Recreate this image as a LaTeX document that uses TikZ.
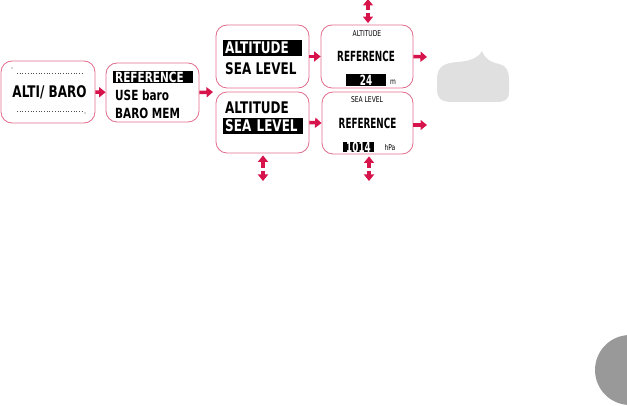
\documentclass[tikz,border=0pt]{standalone}
\usepackage{fontspec}
\usepackage{xcolor}
\usetikzlibrary{arrows.meta}
\newfontfamily\lcdfont[FakeStretch=0.75]{DejaVu Sans}
\newfontfamily\lcdnarrow[FakeStretch=0.63]{DejaVu Sans}
\definecolor{baroRed}{HTML}{D6134A}
\definecolor{frameRed}{HTML}{E06B8C}
\definecolor{bubbleGray}{HTML}{E0E0E0}
\definecolor{tabGray}{HTML}{999999}

\begin{document}
\begin{tikzpicture}[
        x=1pt, y=-1pt,
        flow/.style={-{Triangle[length=6.5pt, width=10pt]}, line width=3.5pt, draw=baroRed},
        screen/.style={draw=frameRed, line width=0.8pt, rounded corners=11pt, inner sep=0pt},
        big/.style={font=\lcdfont\bfseries\fontsize{16}{16}\selectfont, inner sep=0pt},
        mid/.style={font=\lcdfont\bfseries\fontsize{14}{14}\selectfont, inner sep=0pt},
        ref/.style={font=\lcdnarrow\bfseries\fontsize{14}{14}\selectfont, inner sep=0pt},
        tiny/.style={font=\lcdfont\fontsize{8}{8}\selectfont, inner sep=0pt},
        hl/.style={fill=black, text=white, inner xsep=2pt, inner ysep=0pt, align=left},
      ]
        \useasboundingbox (0,0) rectangle (627,406);

        % screens
        \node[screen, minimum width=94pt, minimum height=62pt] (alti) at (48,92) {};
        \node[screen, minimum width=93pt, minimum height=59pt] (menu) at (152.5,92.5) {};
        \node[screen, minimum width=93pt, minimum height=63pt] (choiceA) at (262.5,56.5) {};
        \node[screen, minimum width=93pt, minimum height=61pt] (choiceS) at (262.5,122.5) {};
        \node[screen, minimum width=92pt, minimum height=63pt] (refA) at (367,56.5) {};
        \node[screen, minimum width=91pt, minimum height=62pt] (refS) at (367.5,123) {};

        % ALTI/BARO
        \node[big] (altiTxt) at (49.5,92.5) {ALTI/ BARO};
        \draw[dotted, line width=0.7pt, black!70] (17,73) -- (82,73);
        \draw[dotted, line width=0.7pt, black!70] (17,111) -- (82,111);
        \fill[black!70] (12,68) circle (0.7pt);
        \fill[black!70] (85,113) circle (0.7pt);

        % menu
        \node[mid, hl, anchor=west, text width=76pt, minimum height=12.5pt] (menuRef) at (113,77) {REFERENCE};
        \node[mid, anchor=west] (menuUse) at (115,95) {USE baro};
        \node[mid, anchor=west] (menuMem) at (115,113) {BARO MEM};

        % altitude / sea level choice
        \node[big, hl, anchor=west, text width=75pt, minimum height=16pt] (aSelA) at (223,48) {ALTITUDE};
        \node[big, anchor=west] (aSelS) at (225,68.5) {SEA LEVEL};
        \node[big, anchor=west] (sSelA) at (225,107.5) {ALTITUDE};
        \node[big, hl, anchor=west, text width=76pt, minimum height=16pt] (sSelS) at (223,126) {SEA LEVEL};

        % reference screens
        \node[tiny] (refATitle) at (367,34) {ALTITUDE};
        \node[ref] (refATxt) at (366,56) {REFERENCE};
        \node[ref, hl, minimum width=40pt, minimum height=12pt] (refAVal) at (366,80) {24};
        \node[tiny] (refAUnit) at (393,82) {m};
        \node[tiny] (refSTitle) at (367,100) {SEA LEVEL};
        \node[ref] (refSTxt) at (367.5,123) {REFERENCE};
        \node[ref, hl, inner xsep=1pt, minimum width=31pt, minimum height=10.5pt] (refSVal) at (358.5,147) {1014};
        \node[tiny] (refSUnit) at (390,148) {hPa};

        % free ends
        \coordinate (split) at (213,92);
        \coordinate (outA) at (427,57);
        \coordinate (outS) at (427,125);
        \coordinate (topUp) at (368,-1);
        \coordinate (topUpBase) at (368,10);
        \coordinate (topDownBase) at (368,13);
        \coordinate (sUpBase) at (369,168);
        \coordinate (sDownBase) at (369,171);
        \coordinate (sDown) at (369,181);
        \coordinate (cUpBase) at (263,168);
        \coordinate (cDownBase) at (263,171);
        \coordinate (cDown) at (263,181);

        % arrows
        \draw[flow] (alti) -- (menu);
        \draw[flow] (menu.east) -- (split);
        \draw[flow] (choiceA) -- (refA);
        \draw[flow] (choiceS.east) -- (refS.west);
        \draw[flow] (refA.east) -- (outA);
        \draw[flow] (refS.east |- outS) -- (outS);
        \draw[flow] (topUpBase) -- (topUp);
        \draw[flow, shorten >=1.5pt] (topDownBase) -- (refA.north -| topDownBase);
        \draw[flow, shorten >=2pt] (sUpBase) -- (refS.south -| sUpBase);
        \draw[flow] (sDownBase) -- (sDown);
        \draw[flow, shorten >=2pt] (cUpBase) -- (choiceS.south -| cUpBase);
        \draw[flow] (cDownBase) -- (cDown);

        % bubble and page tab
        \fill[bubbleGray] (437,80) .. controls (437,67) and (443,63) .. (458,62)
          .. controls (470,61) and (478,58) .. (482,51)
          .. controls (484,58) and (490,62) .. (499,64)
          .. controls (507,66) and (509,71) .. (509,80) -- (509,92)
          .. controls (509,100) and (505,102) .. (496,102) -- (452,102)
          .. controls (440,102) and (437,97) .. (437,90) -- cycle;
        \fill[tabGray] (630,370) circle (35);
      \end{tikzpicture}
\end{document}
